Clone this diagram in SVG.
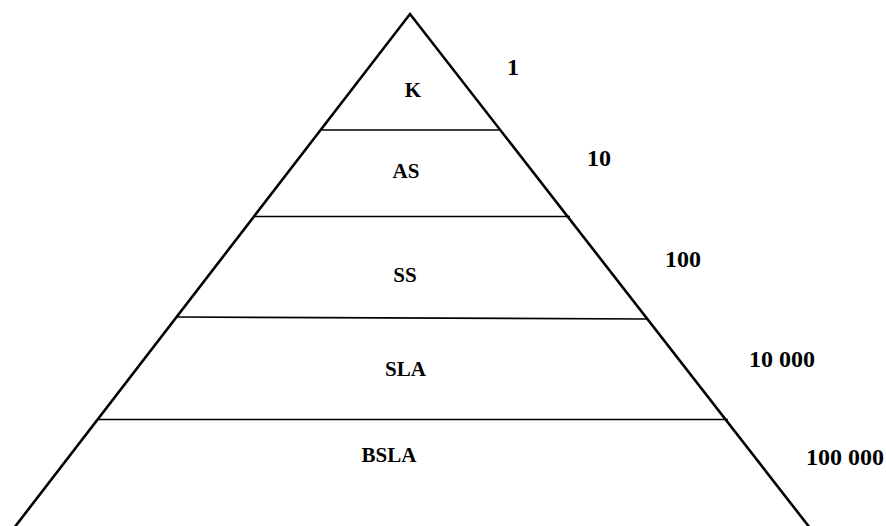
<svg xmlns="http://www.w3.org/2000/svg" width="886" height="526" viewBox="0 0 886 526">
<style>
.side{stroke:#000;stroke-width:2.6;fill:none;stroke-linecap:butt}
.tier{stroke:#000;stroke-width:1.6;fill:none}
.lbl{font-family:"Liberation Serif","Times New Roman",serif;font-weight:bold;font-size:21px;text-anchor:middle;fill:#000}
.num{font-family:"Liberation Serif","Times New Roman",serif;font-weight:bold;font-size:24px;fill:#000}
</style>
<rect width="886" height="526" fill="#fff"/>
<g id="connectors">
<polyline class="side" points="14,528 410,14 810,528"/>
<line class="tier" x1="322" y1="130" x2="499" y2="130"/>
<line class="tier" x1="253" y1="216.5" x2="570" y2="216.5"/>
<line class="tier" x1="177" y1="317" x2="647" y2="319"/>
<line class="tier" x1="97" y1="419.5" x2="728" y2="419.5"/>
</g>
<g id="node-K"><text class="lbl" x="413" y="97">K</text></g>
<g id="node-AS"><text class="lbl" x="406" y="178">AS</text></g>
<g id="node-SS"><text class="lbl" x="405" y="282">SS</text></g>
<g id="node-SLA"><text class="lbl" x="405.5" y="376">SLA</text></g>
<g id="node-BSLA"><text class="lbl" x="389" y="462">BSLA</text></g>
<g id="counts">
<text class="num" x="507" y="75">1</text>
<text class="num" x="587" y="166">10</text>
<text class="num" x="665" y="267">100</text>
<text class="num" x="749" y="367">10 000</text>
<text class="num" x="806" y="465">100 000</text>
</g>
</svg>
